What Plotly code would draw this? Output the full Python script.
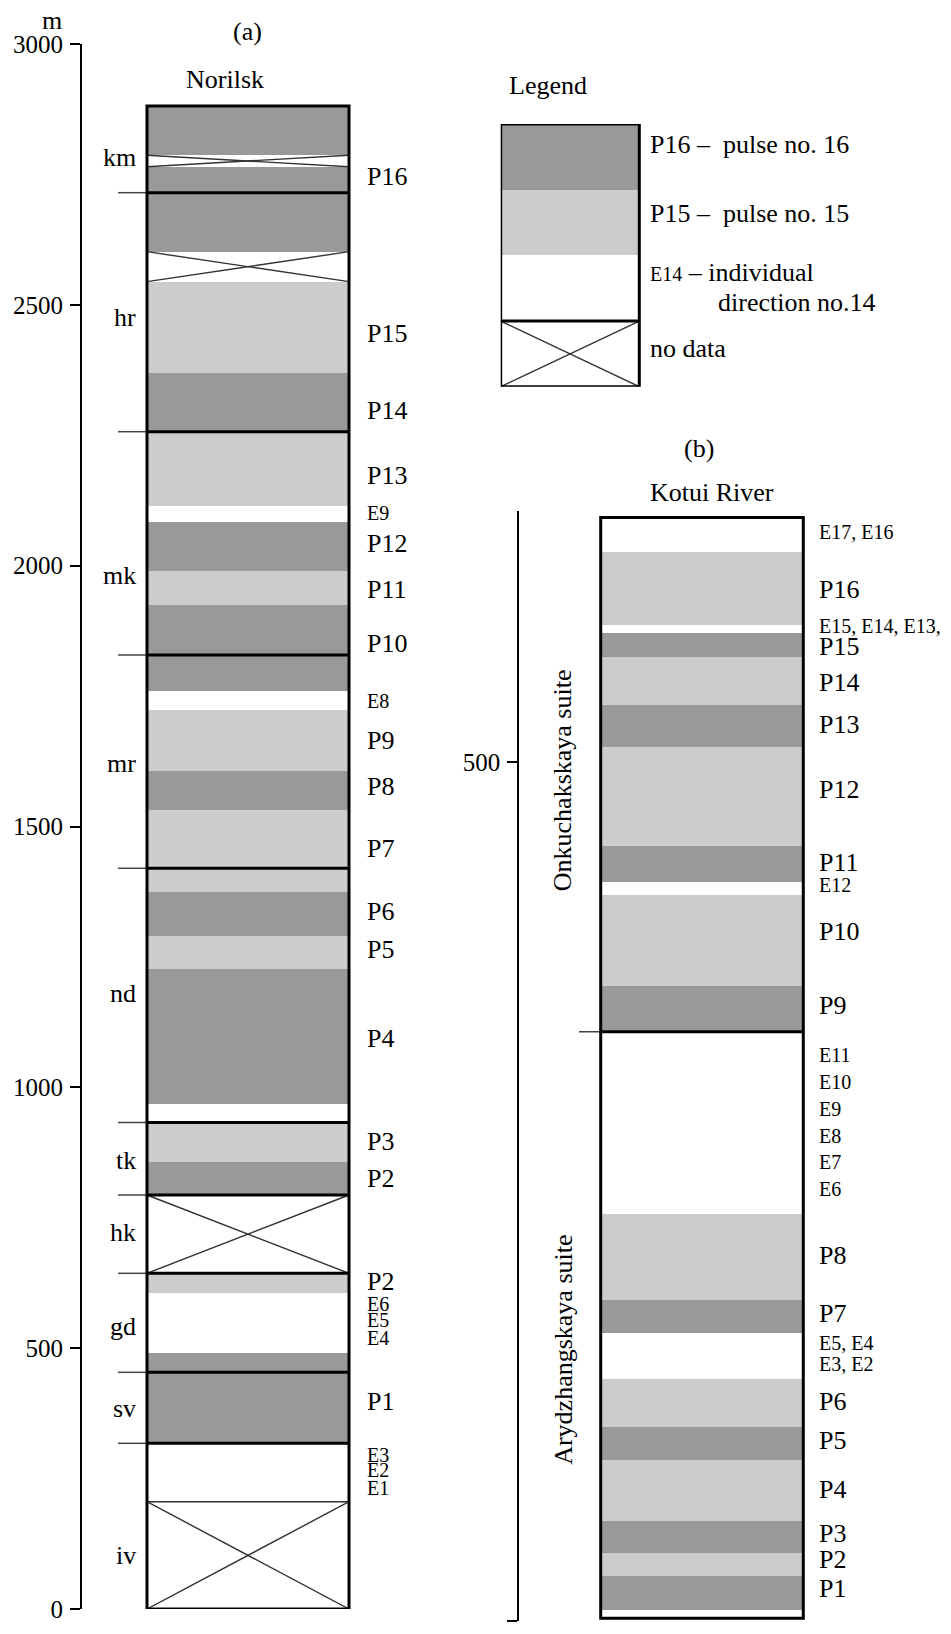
import plotly.graph_objects as go

# ---------------- data ----------------
# Panel (a) Norilsk: band edges (m, bottom -> top) and band kinds
norilsk_edges = [0, 205.7, 317.6, 490.2, 605.2, 643.5, 793.6, 856.3, 932.6, 968,
                 1226.8, 1290.7, 1373.9, 1531.6, 1607, 1723.3, 1759.7, 1924.6,
                 1990.4, 2084.3, 2115, 2256.8, 2370, 2544.4, 2601.9, 2764.8,
                 2786.6, 2881]
norilsk_kinds = ["nodata", "E", "dark", "E", "light", "nodata", "dark", "light",
                 "E", "dark", "light", "dark", "light", "dark", "light", "E",
                 "dark", "light", "dark", "E", "light", "dark", "light", "nodata",
                 "dark", "nodata", "dark"]
norilsk_formation_bounds = [317.6, 453.7, 643.5, 793.6, 932.6, 1419.9, 1828.8,
                            2256.8, 2715]
formation_names = ["iv", "sv", "gd", "hk", "tk", "nd", "mr", "mk", "hr", "km"]
formation_label_depth = [103.5, 385.3, 540.6, 720.8, 860.7, 1180.8, 1621.7,
                         1982.1, 2474.8, 2781.5]
norilsk_labels = ["P16", "P15", "P14", "P13", "E9", "P12", "P11", "P10", "E8",
                  "P9", "P8", "P7", "P6", "P5", "P4", "P3", "P2", "P2", "E6",
                  "E5", "E4", "P1", "E3", "E2", "E1"]
norilsk_label_depth = [2745.6, 2446, 2298.4, 2173.8, 2101.5, 2042.9, 1953.4,
                       1851.2, 1741.2, 1664.5, 1576.3, 1458.2, 1336.7, 1264.6,
                       1094, 897, 824.3, 627.4, 584, 554, 520, 397.4, 295.2,
                       266.5, 231.4]
norilsk_ticks = [0, 500, 1000, 1500, 2000, 2500, 3000]

# Panel (b) Kotui River
kotui_edges = [1.6, 6.4, 26.4, 39.8, 58.4, 93.7, 113.1, 140.9, 167.5, 186.8,
               236.7, 343, 369.6, 422.6, 430.3, 451.1, 508.6, 533.2, 560.9,
               574.9, 579.7, 622.4, 642.2]
kotui_kinds = ["E", "dark", "light", "dark", "light", "dark", "light", "E",
               "dark", "light", "E", "dark", "light", "E", "dark", "light",
               "dark", "light", "dark", "E", "light", "E"]
kotui_suite_bounds = [343]
suite_names = ["Arydzhangskaya suite", "Onkuchakskaya suite"]
suite_label_depth = [158, 489.5]
kotui_labels = ["E17, E16", "P16", "E15, E14, E13,", "P15", "P14", "P13", "P12",
                "P11", "E12", "P10", "P9", "E11", "E10", "E9", "E8", "E7", "E6",
                "P8", "P7", "E5, E4", "E3, E2", "P6", "P5", "P4", "P3", "P2", "P1"]
kotui_label_depth = [633.5, 600.1, 578.8, 567.1, 546, 521.5, 483.7, 441.4, 428.4,
                     401.2, 358, 329.5, 313.6, 298, 282.5, 266.9, 251.5, 213,
                     179.1, 161.6, 149.6, 127.6, 104.8, 76.3, 51.1, 35.9, 19]
kotui_ticks = [0, 500]

# Legend (bottom -> top)
legend_kinds = ["nodata", "E", "light", "dark"]
legend_edges = [0, 1, 2, 3, 4]

# ---------------- styling ----------------
W, H = 951, 1634
FONT = "Liberation Serif"
FILL = {"dark": "#999999", "light": "#cccccc", "E": "#ffffff", "nodata": "#ffffff"}
BIG, SMALL, TICK = 26, 20, 25


def pxx(v):
    return v / W


def pxy(v):
    return 1 - v / H


fig = go.Figure()
annotations = []
shapes = []


def draw_column(edges, kinds, bounds, xa, ya, x0, x1, tick_x0, border=3):
    bases = edges[:-1]
    heights = [t - b for b, t in zip(edges[:-1], edges[1:])]
    fig.add_trace(go.Bar(
        x=[(x0 + x1) / 2] * len(bases), y=heights, base=bases,
        width=[x1 - x0] * len(bases),
        marker=dict(color=[FILL[k] for k in kinds], line=dict(width=0)),
        xaxis=xa, yaxis=ya, showlegend=False, hoverinfo="skip"))
    # no-data crosses
    xs, ys = [], []
    thin_x, thin_y = [], []
    for i, (b, t, k) in enumerate(zip(edges[:-1], edges[1:], kinds)):
        if k == "nodata":
            xs += [x0, x1, None, x0, x1, None]
            ys += [b, t, None, t, b, None]
            if i + 1 < len(kinds) and kinds[i + 1] == "E":
                thin_x += [x0, x1, None]
                thin_y += [t, t, None]
            if i - 1 >= 0 and kinds[i - 1] == "E":
                thin_x += [x0, x1, None]
                thin_y += [b, b, None]
    if xs:
        fig.add_trace(go.Scatter(x=xs, y=ys, mode="lines",
                                 line=dict(color="#333333", width=1.4),
                                 xaxis=xa, yaxis=ya, showlegend=False,
                                 hoverinfo="skip"))
    if thin_x:
        fig.add_trace(go.Scatter(x=thin_x, y=thin_y, mode="lines",
                                 line=dict(color="#333333", width=1.4),
                                 xaxis=xa, yaxis=ya, showlegend=False,
                                 hoverinfo="skip"))
    # formation boundaries (thick across the column, thin tick to the left)
    bx, by, tx, ty = [], [], [], []
    for v in bounds:
        bx += [x0, x1, None]
        by += [v, v, None]
        if tick_x0 is not None:
            tx += [tick_x0, x0, None]
            ty += [v, v, None]
    if bx:
        fig.add_trace(go.Scatter(x=bx, y=by, mode="lines",
                                 line=dict(color="black", width=3),
                                 xaxis=xa, yaxis=ya, showlegend=False,
                                 hoverinfo="skip"))
    if tx:
        fig.add_trace(go.Scatter(x=tx, y=ty, mode="lines",
                                 line=dict(color="#444444", width=1.5),
                                 xaxis=xa, yaxis=ya, showlegend=False,
                                 hoverinfo="skip"))
    shapes.append(dict(type="rect", xref=xa, yref=ya, x0=x0, x1=x1,
                       y0=edges[0], y1=edges[-1],
                       line=dict(color="black", width=border),
                       fillcolor="rgba(0,0,0,0)", layer="above"))


# Panel a column: x data units in px offset from axis line at 82
A_X0, A_X1 = 65, 267
draw_column(norilsk_edges, norilsk_kinds, norilsk_formation_bounds,
            "x", "y", A_X0, A_X1, 36)
# Panel b column
B_X0, B_X1 = 81.4, 284
draw_column(kotui_edges, kotui_kinds, kotui_suite_bounds,
            "x2", "y2", B_X0, B_X1, 59.7)
# Legend column
draw_column(legend_edges, legend_kinds, [1], "x3", "y3", 0, 138.6, None)


def lab_font(t):
    return dict(family=FONT, size=SMALL if t.startswith("E") else BIG,
                color="black")


for t, d in zip(norilsk_labels, norilsk_label_depth):
    annotations.append(dict(text=t, x=283, y=d, xref="x", yref="y",
                            xanchor="left", yanchor="middle", showarrow=False,
                            font=lab_font(t)))
for t, d in zip(formation_names, formation_label_depth):
    annotations.append(dict(text=t, x=56, y=d, xref="x", yref="y",
                            xanchor="right", yanchor="middle", showarrow=False,
                            font=dict(family=FONT, size=BIG, color="black")))
for t, d in zip(kotui_labels, kotui_label_depth):
    annotations.append(dict(text=t, x=297.4, y=d, xref="x2", yref="y2",
                            xanchor="left", yanchor="middle", showarrow=False,
                            font=lab_font(t)))
for t, d in zip(suite_names, suite_label_depth):
    annotations.append(dict(text=t, x=44, y=d, xref="x2", yref="y2",
                            xanchor="center", yanchor="middle", showarrow=False,
                            textangle=-90,
                            font=dict(family=FONT, size=BIG, color="black")))

# titles
for t, x, y in [("m", 52, 20), ("(a)", 247, 32), ("Norilsk", 225, 80),
                ("Legend", 548, 85), ("(b)", 699, 449), ("Kotui River", 712, 493)]:
    annotations.append(dict(text=t, x=pxx(x), y=pxy(y), xref="paper",
                            yref="paper", xanchor="center", yanchor="middle",
                            showarrow=False,
                            font=dict(family=FONT, size=BIG, color="black")))

# legend texts
legend_texts = [
    ("P16 –\u00a0 pulse no. 16", 648, 145),
    ("P15 –\u00a0 pulse no. 15", 648, 213),
    ("<span style='font-size:%dpx'>E14</span> – individual" % SMALL, 648, 273),
    ("direction no.14", 716, 302),
    ("no data", 648, 348),
]
for t, x, y in legend_texts:
    annotations.append(dict(text=t, x=pxx(x), y=pxy(y), xref="paper",
                            yref="paper", xanchor="left", yanchor="middle",
                            showarrow=False,
                            font=dict(family=FONT, size=BIG, color="black")))

yaxis_common = dict(showline=True, linecolor="black", linewidth=2,
                    ticks="outside", ticklen=10, tickwidth=2, tickcolor="black",
                    showgrid=False, zeroline=False, automargin=False,
                    ticklabelstandoff=2,
                    tickfont=dict(family=FONT, size=TICK, color="black"),
                    fixedrange=True)

fig.update_layout(
    width=W, height=H, margin=dict(l=0, r=0, t=0, b=0),
    paper_bgcolor="white", plot_bgcolor="rgba(0,0,0,0)",
    template="none", barmode="overlay", bargap=0, showlegend=False,
    xaxis=dict(domain=[pxx(82), pxx(440)], range=[0, 358], visible=False,
               anchor="y", fixedrange=True),
    yaxis=dict(domain=[pxy(1609), pxy(44)], range=[0, 3000], anchor="x",
               tickvals=norilsk_ticks, **yaxis_common),
    xaxis2=dict(domain=[pxx(519.3), pxx(945)], range=[0, 425.7], visible=False,
                anchor="y2", fixedrange=True),
    yaxis2=dict(domain=[pxy(1621), pxy(511)], range=[0, 646], anchor="x2",
                tickvals=kotui_ticks, **yaxis_common),
    xaxis3=dict(domain=[pxx(500.7), pxx(940)], range=[0, 439.3], visible=False,
                anchor="y3", fixedrange=True),
    yaxis3=dict(domain=[pxy(386.7), pxy(124)], range=[0, 4], visible=False,
                anchor="x3", fixedrange=True),
    annotations=annotations,
    shapes=shapes,
)

fig.write_html("out.html",
               config={"displayModeBar": False, "staticPlot": True},
               post_script="document.body.style.margin='0';"
                           "document.body.style.overflow='hidden';")
